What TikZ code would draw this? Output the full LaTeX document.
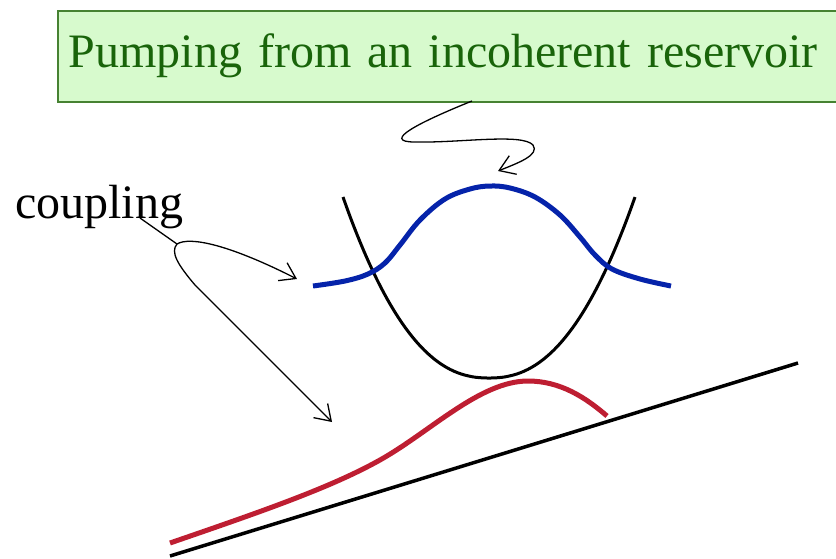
\documentclass[tikz,border=0pt]{standalone}
\usepackage{fontspec}
\setmainfont{Liberation Serif}
\usetikzlibrary{arrows.meta}
\definecolor{boxfill}{RGB}{215,250,205}
\definecolor{boxline}{RGB}{70,130,50}
\definecolor{titlegreen}{RGB}{25,100,10}
\definecolor{wblue}{RGB}{5,35,170}
\definecolor{wred}{RGB}{190,30,50}
\tikzset{
  pointer/.style={line width=1.3pt, -{Straight Barb[length=15pt,width=20pt,line width=1.3pt]}},
  titlebox/.style={draw=boxline, line width=1.5pt, fill=boxfill, anchor=north west, minimum height=91pt, text width=800pt, inner xsep=11pt, align=left, text=titlegreen, font=\fontsize{48}{56}\selectfont},
  label/.style={font=\fontsize{48}{56}\selectfont, inner sep=0pt}
}
\begin{document}
\begin{tikzpicture}[x=1pt,y=-1pt]
\useasboundingbox (0,0) rectangle (836,558);
\clip (0,0) rectangle (836,558);
\node[titlebox] (title) at (57,10) {Pumping from an incoherent reservoir};
\node[label, anchor=base west] (coupling) at (15,218) {coupling};
% potential well
\draw[line width=3pt] plot[domain=343:635, samples=80, smooth] (\x, {378-181*(max(abs((\x-489)/146),0.001))^2.3});
% blue wavefunction
\draw[wblue, line width=5pt] plot[smooth, tension=0.6] coordinates {(313,286) (345,281) (368,274) (385,263) (400,245) (420,220) (445,199) (470,189) (490,186) (510,188) (535,197) (560,215) (580,237) (595,255) (612,269) (640,279) (671,286)};
% slope line
\coordinate (s1) at (170,556);
\coordinate (s2) at (798,363);
\draw[line width=3.5pt] (s1) -- (s2);
% red wavefunction
\draw[wred, line width=5pt] (170,543) .. controls (260,512) and (330,488) .. (380,460)
  .. controls (430,432) and (480,381) .. (528,381)
  .. controls (560,381) and (585,397) .. (607,416);
% coupling arrows
\coordinate (cstart) at (140,218);
\coordinate (cj) at (177,244);
\coordinate (ctip1) at (297,279);
\coordinate (ctip2) at (332,422);
\draw[line width=1.3pt] (cstart) -- (cj);
\draw[pointer] (cj) .. controls (190,236) and (230,245) .. (ctip1);
\draw[pointer] (cj) .. controls (170,252) and (178,265) .. (195,285) -- (ctip2);
% pumping squiggle
\coordinate (ptip) at (498,171);
\draw[pointer] (472,101) .. controls (420,122) and (380,142) .. (415,142) .. controls (460,143) and (522,133) .. (533,145) .. controls (540,155) and (518,163) .. (ptip);
\end{tikzpicture}
\end{document}
